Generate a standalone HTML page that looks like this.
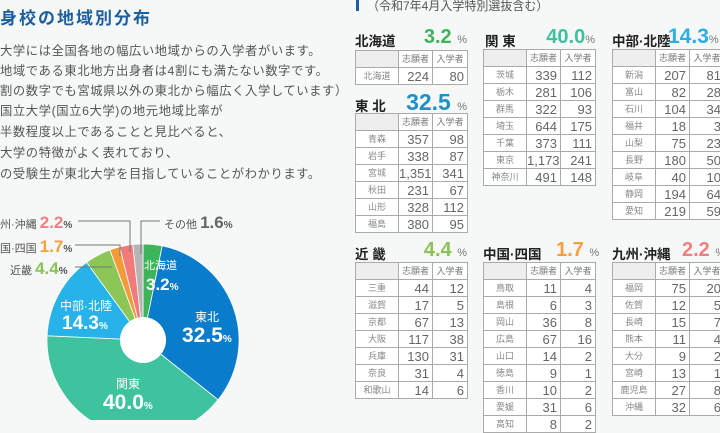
<!DOCTYPE html>
<html><head><meta charset="utf-8"><style>
*{margin:0;padding:0;box-sizing:border-box}
body{width:720px;height:420px;overflow:hidden;background:#f6f7f7;position:relative;font-family:"Liberation Sans","Noto Sans CJK JP",sans-serif;color:#444}
.a{position:absolute;white-space:nowrap}
.title{left:0;top:4px;font-size:17px;font-weight:bold;color:#1d5f9e;letter-spacing:2px}
.body{left:0;font-size:12.3px;color:#555;letter-spacing:0.6px}
table{position:absolute;border-collapse:collapse;table-layout:fixed;width:112px;background:#fff}
td{border:1px solid #aaa;height:17px;font-size:13px;color:#666;text-align:right;padding-right:3px;line-height:15px}
td:first-child{font-size:9px;color:#888;text-align:center;padding:0}
tr.h td{font-size:9px;color:#777;text-align:center;padding:0}
tr.h td:first-child{background:#eee}
.rn{font-size:13.5px;font-weight:bold;color:#222}
.pc{font-size:20px;font-weight:bold;text-align:right;width:112px}
.pc small{font-size:11px;color:#777;font-weight:normal}
.lab{color:#fff;font-weight:bold;text-align:center}
</style></head><body>
<div class="a title">身校の地域別分布</div>
<div class="a body" style="top:41px">大学には全国各地の幅広い地域からの入学者がいます。</div>
<div class="a body" style="top:61px">地域である東北地方出身者は4割にも満たない数字です。</div>
<div class="a body" style="top:81px">割の数字でも宮城県以外の東北から幅広く入学しています）</div>
<div class="a body" style="top:101px">国立大学(国立6大学)の地元地域比率が</div>
<div class="a body" style="top:122px">半数程度以上であることと見比べると、</div>
<div class="a body" style="top:143px">大学の特徴がよく表れており、</div>
<div class="a body" style="top:164px">の受験生が東北大学を目指していることがわかります。</div>

<svg class="a" style="left:0;top:0" width="350" height="420">
<g stroke="#fff" stroke-width="0.8">
<path d="M143,340 L143,244 A96,96 0 0 1 162.2,245.9Z" fill="#3cb45a"/>
<path d="M143,340 L162.2,245.9 A96,96 0 0 1 218.1,399.8Z" fill="#0a7ccc"/>
<path d="M143,340 L218.1,399.8 A96,96 0 0 1 47.1,335.8Z" fill="#3fc39f"/>
<path d="M143,340 L47.1,335.8 A96,96 0 0 1 86.6,262.3Z" fill="#28b2ea"/>
<path d="M143,340 L86.6,262.3 A96,96 0 0 1 109.9,249.9Z" fill="#8cc657"/>
<path d="M143,340 L109.9,249.9 A96,96 0 0 1 119.7,246.9Z" fill="#f59a3a"/>
<path d="M143,340 L119.7,246.9 A96,96 0 0 1 132.8,244.5Z" fill="#f27a7a"/>
<path d="M143,340 L132.8,244.5 A96,96 0 0 1 143,244Z" fill="#b5b5b5"/>
</g>
<circle cx="143" cy="340" r="23" fill="#fff"/>
<g stroke="#777" stroke-width="1" fill="none">
<polyline points="78,221 130,221 130,252"/>
<polyline points="75,245 120,245 120,256"/>
<polyline points="75,267 112,267"/>
<polyline points="160,221 141,221 141,254"/>
</g>
</svg>
<div class="a" style="left:0;top:213px;font-size:11px;color:#555">州·沖縄 <b style="font-size:17px;color:#f08080">2.2</b><b style="font-size:10px">%</b></div>
<div class="a" style="left:0;top:237px;font-size:11px;color:#555">国·四国 <b style="font-size:17px;color:#f5a03c">1.7</b><b style="font-size:10px">%</b></div>
<div class="a" style="left:10px;top:259px;font-size:11px;color:#555">近畿 <b style="font-size:17px;color:#8cc257">4.4</b><b style="font-size:10px">%</b></div>
<div class="a" style="left:164px;top:213px;font-size:11px;color:#555">その他 <b style="font-size:17px;color:#666">1.6</b><b style="font-size:10px">%</b></div>
<div class="a lab" style="left:144px;top:257px;font-size:11px;font-weight:normal">北海道</div>
<div class="a lab" style="left:146px;top:275px;font-size:17px">3.2<span style="font-size:10px">%</span></div>
<div class="a lab" style="left:195px;top:308px;font-size:12px;font-weight:normal">東北</div>
<div class="a lab" style="left:182px;top:324px;font-size:21px">32.5<span style="font-size:10px">%</span></div>
<div class="a lab" style="left:60px;top:297px;font-size:12px;font-weight:normal">中部·北陸</div>
<div class="a lab" style="left:62px;top:313px;font-size:19px">14.3<span style="font-size:10px">%</span></div>
<div class="a lab" style="left:116px;top:375px;font-size:12px;font-weight:normal">関東</div>
<div class="a lab" style="left:103px;top:391px;font-size:21px">40.0<span style="font-size:10px">%</span></div>

<div class="a" style="left:356px;top:0;width:3px;height:11px;background:#1d5f9e"></div>
<div class="a" style="left:367px;top:-3px;font-size:12px;color:#555">（令和7年4月入学特別選抜含む）</div>

<div class="a rn" style="left:355px;top:30px">北海道</div>
<div class="a pc" style="left:355px;top:26px;color:#3cb45a">3.2 <small>%</small></div>
<table style="left:355px;top:50px"><col style="width:43px"><col style="width:34px"><col style="width:35px">
<tr class="h"><td></td><td>志願者</td><td>入学者</td></tr>
<tr><td>北海道</td><td>224</td><td>80</td></tr></table>

<div class="a rn" style="left:355px;top:95px">東 北</div>
<div class="a pc" style="left:355px;top:89px;color:#1e90c8;font-size:23px">32.5 <small>%</small></div>
<table style="left:355px;top:113px"><col style="width:43px"><col style="width:34px"><col style="width:35px">
<tr class="h"><td></td><td>志願者</td><td>入学者</td></tr>
<tr><td>青森</td><td>357</td><td>98</td></tr>
<tr><td>岩手</td><td>338</td><td>87</td></tr>
<tr><td>宮城</td><td>1,351</td><td>341</td></tr>
<tr><td>秋田</td><td>231</td><td>67</td></tr>
<tr><td>山形</td><td>328</td><td>112</td></tr>
<tr><td>福島</td><td>380</td><td>95</td></tr></table>

<div class="a rn" style="left:485px;top:30px">関 東</div>
<div class="a pc" style="left:483px;top:26px;color:#3fc0a0">40.0<small>%</small></div>
<table style="left:483px;top:49px"><col style="width:43px"><col style="width:34px"><col style="width:35px">
<tr class="h"><td></td><td>志願者</td><td>入学者</td></tr>
<tr><td>茨城</td><td>339</td><td>112</td></tr>
<tr><td>栃木</td><td>281</td><td>106</td></tr>
<tr><td>群馬</td><td>322</td><td>93</td></tr>
<tr><td>埼玉</td><td>644</td><td>175</td></tr>
<tr><td>千葉</td><td>373</td><td>111</td></tr>
<tr><td>東京</td><td>1,173</td><td>241</td></tr>
<tr><td>神奈川</td><td>491</td><td>148</td></tr></table>

<div class="a rn" style="left:612px;top:30px">中部·北陸</div>
<div class="a" style="left:668px;top:25px;color:#29aee6;font-size:21px;font-weight:bold">14.3<span style="font-size:11px;color:#777;font-weight:normal">%</span></div>
<table style="left:612px;top:49px"><col style="width:43px"><col style="width:34px"><col style="width:35px">
<tr class="h"><td></td><td>志願者</td><td>入学者</td></tr>
<tr><td>新潟</td><td>207</td><td>81</td></tr>
<tr><td>富山</td><td>82</td><td>28</td></tr>
<tr><td>石川</td><td>104</td><td>34</td></tr>
<tr><td>福井</td><td>18</td><td>3</td></tr>
<tr><td>山梨</td><td>75</td><td>23</td></tr>
<tr><td>長野</td><td>180</td><td>50</td></tr>
<tr><td>岐阜</td><td>40</td><td>10</td></tr>
<tr><td>静岡</td><td>194</td><td>64</td></tr>
<tr><td>愛知</td><td>219</td><td>59</td></tr></table>

<div class="a rn" style="left:355px;top:243px">近 畿</div>
<div class="a pc" style="left:355px;top:239px;color:#8cc257">4.4 <small>%</small></div>
<table style="left:355px;top:262px"><col style="width:43px"><col style="width:34px"><col style="width:35px">
<tr class="h"><td></td><td>志願者</td><td>入学者</td></tr>
<tr><td>三重</td><td>44</td><td>12</td></tr>
<tr><td>滋賀</td><td>17</td><td>5</td></tr>
<tr><td>京都</td><td>67</td><td>13</td></tr>
<tr><td>大阪</td><td>117</td><td>38</td></tr>
<tr><td>兵庫</td><td>130</td><td>31</td></tr>
<tr><td>奈良</td><td>31</td><td>4</td></tr>
<tr><td>和歌山</td><td>14</td><td>6</td></tr></table>

<div class="a rn" style="left:483px;top:243px">中国·四国</div>
<div class="a" style="left:556px;top:239px;color:#f5a03c;font-size:20px;font-weight:bold">1.7 <span style="font-size:11px;color:#777;font-weight:normal">%</span></div>
<table style="left:483px;top:262px"><col style="width:43px"><col style="width:34px"><col style="width:35px">
<tr class="h"><td></td><td>志願者</td><td>入学者</td></tr>
<tr><td>鳥取</td><td>11</td><td>4</td></tr>
<tr><td>島根</td><td>6</td><td>3</td></tr>
<tr><td>岡山</td><td>36</td><td>8</td></tr>
<tr><td>広島</td><td>67</td><td>16</td></tr>
<tr><td>山口</td><td>14</td><td>2</td></tr>
<tr><td>徳島</td><td>9</td><td>1</td></tr>
<tr><td>香川</td><td>10</td><td>2</td></tr>
<tr><td>愛媛</td><td>31</td><td>6</td></tr>
<tr><td>高知</td><td>8</td><td>2</td></tr></table>

<div class="a rn" style="left:612px;top:243px">九州·沖縄</div>
<div class="a" style="left:682px;top:239px;color:#f08080;font-size:20px;font-weight:bold">2.2 <span style="font-size:11px;color:#777;font-weight:normal">%</span></div>
<table style="left:612px;top:262px"><col style="width:43px"><col style="width:34px"><col style="width:35px">
<tr class="h"><td></td><td>志願者</td><td>入学者</td></tr>
<tr><td>福岡</td><td>75</td><td>20</td></tr>
<tr><td>佐賀</td><td>12</td><td>5</td></tr>
<tr><td>長崎</td><td>15</td><td>7</td></tr>
<tr><td>熊本</td><td>11</td><td>4</td></tr>
<tr><td>大分</td><td>9</td><td>2</td></tr>
<tr><td>宮崎</td><td>13</td><td>1</td></tr>
<tr><td>鹿児島</td><td>27</td><td>8</td></tr>
<tr><td>沖縄</td><td>32</td><td>6</td></tr></table>
</body></html>
